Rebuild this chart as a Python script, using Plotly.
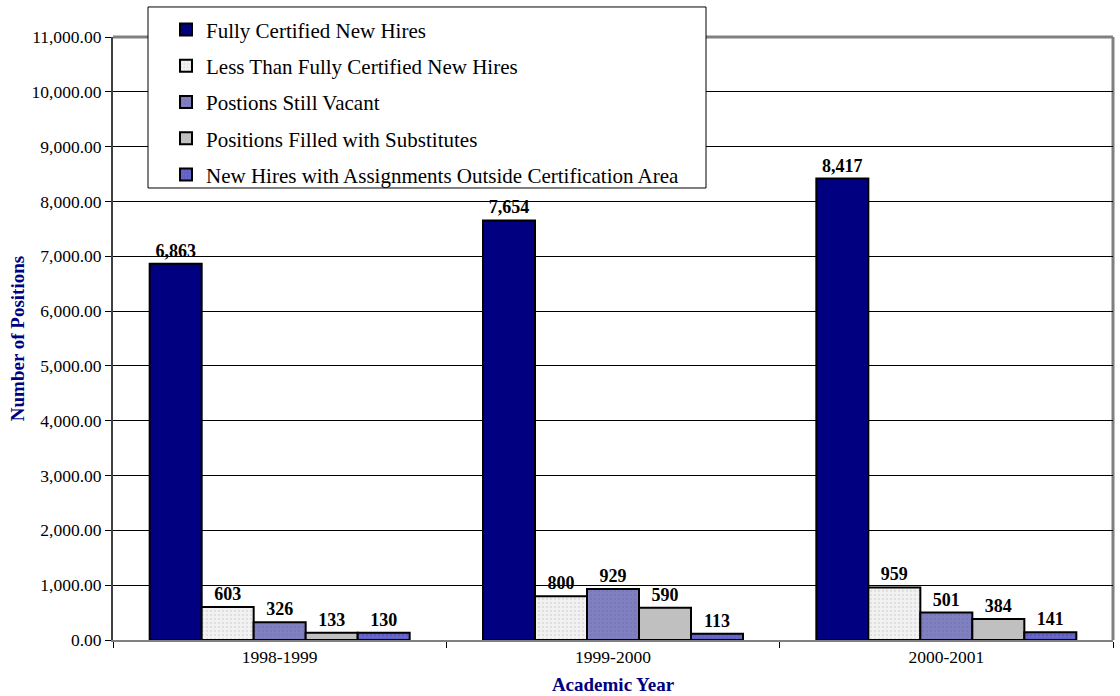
import plotly.graph_objects as go

years = ["1998-1999", "1999-2000", "2000-2001"]
series_names = [
    "Fully Certified New Hires",
    "Less Than Fully Certified New Hires",
    "Postions Still Vacant",
    "Positions Filled with Substitutes",
    "New Hires with Assignments Outside Certification Area",
]
fully_certified = [6863, 7654, 8417]
less_than_fully = [603, 800, 959]
still_vacant = [326, 929, 501]
substitutes = [133, 590, 384]
outside_area = [130, 113, 141]

series_values = [fully_certified, less_than_fully, still_vacant, substitutes, outside_area]
colors = ["#000080", "#F2F2F2", "#8080C0", "#C0C0C0", "#6666CC"]
patterns = ["", ".", ".", "", "."]
pattern_fg = ["#000080", "#C8C8C8", "#7070B0", "#C0C0C0", "#5050A8"]

FONT = "Times"

fig = go.Figure()
for i, (name, vals) in enumerate(zip(series_names, series_values)):
    fig.add_trace(go.Bar(
        x=years, y=vals, name=name, legendgroup=f"g{i}",
        marker=dict(color=colors[i], line=dict(color="black", width=2),
                    pattern=dict(shape=patterns[i], fgcolor=pattern_fg[i], size=4, solidity=0.25)),
        texttemplate="<b>%{y:,.0f}</b>", textposition="outside",
        textfont=dict(family=FONT, size=18, color="black"),
        cliponaxis=False,
    ))

fig.update_layout(
    width=1120, height=696,
    margin=dict(l=113, r=7, t=37, b=56),
    paper_bgcolor="white", plot_bgcolor="white",
    barmode="group", bargap=0.22, bargroupgap=0,
    font=dict(family=FONT, size=17.5, color="black"),
    showlegend=True,
    legend=dict(x=0.053, xanchor="left", y=1.046, yanchor="top",
                bgcolor="rgba(0,0,0,0)", borderwidth=0,
                font=dict(family=FONT, size=21, color="black"),
                traceorder="grouped", tracegroupgap=6),
    shapes=[
        dict(type="rect", xref="paper", yref="paper", x0=0.035, x1=0.593, y0=0.7496, y1=1.0498,
             fillcolor="white", line=dict(color="black", width=1), layer="above"),
        dict(type="line", xref="paper", yref="paper", x0=0, x1=1, y0=1, y1=1,
             line=dict(color="#808080", width=3), layer="below"),
        dict(type="line", xref="paper", yref="paper", x0=1, x1=1, y0=0, y1=1,
             line=dict(color="#808080", width=3), layer="below"),
    ],
)

fig.update_yaxes(
    range=[0, 11000], dtick=1000, tickformat=",.2f",
    showgrid=True, gridcolor="black", gridwidth=1,
    showline=True, linecolor="#404040", linewidth=2,
    ticks="outside", ticklen=6, tickcolor="black",
    tickfont=dict(family=FONT, size=17.5, color="black"),
    title=dict(text="<b>Number of Positions</b>", standoff=2,
               font=dict(family=FONT, size=19, color="#000080")),
    zeroline=False, automargin=False,
)
fig.update_xaxes(
    showline=True, linecolor="#808080", linewidth=2,
    ticks="outside", tickson="boundaries", ticklen=6, tickcolor="black",
    tickfont=dict(family=FONT, size=17.5, color="black"),
    title=dict(text="<b>Academic Year</b>", standoff=12,
               font=dict(family=FONT, size=19, color="#000080")),
    automargin=False,
)

fig.write_html("out.html")
